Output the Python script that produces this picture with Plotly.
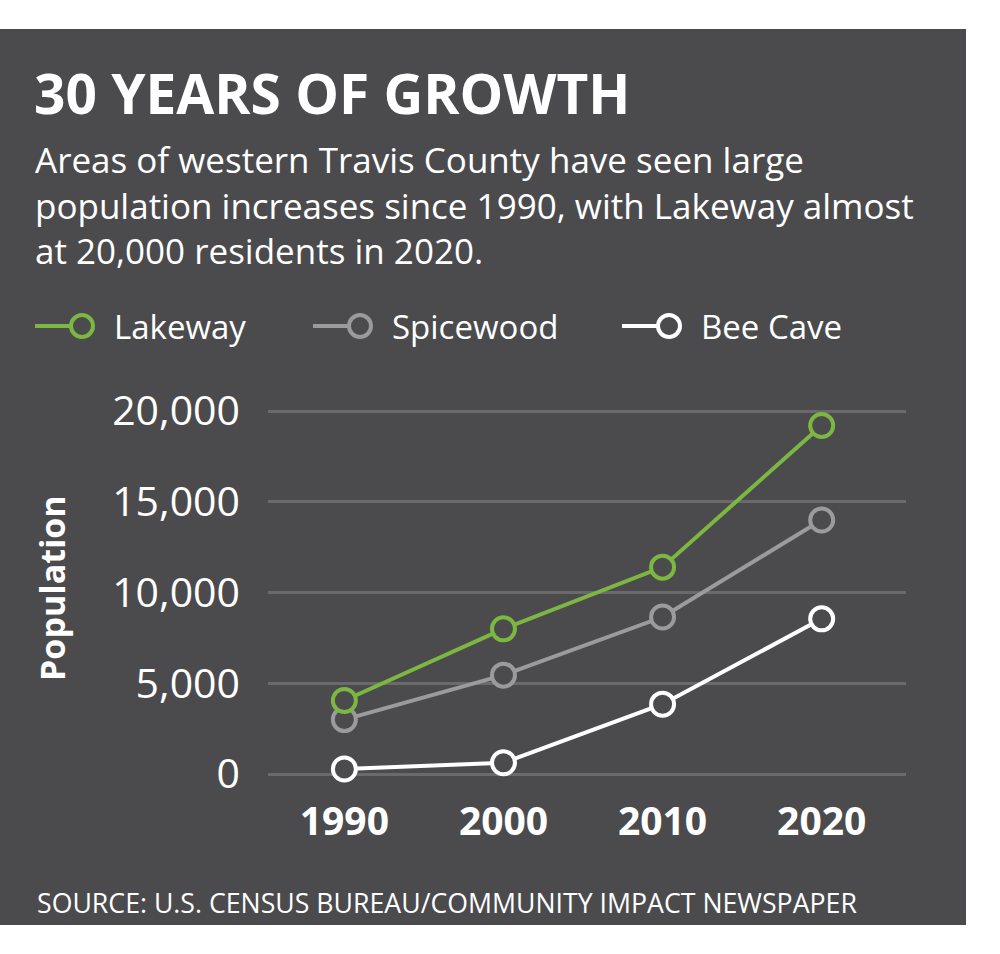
import plotly.graph_objects as go

# census years and populations
years = [1990, 2000, 2010, 2020]
lakeway = [4050, 8000, 11400, 19200]
spicewood = [3000, 5450, 8650, 14000]
bee_cave = [280, 620, 3850, 8550]

y_ticks = [0, 5000, 10000, 15000, 20000]
y_labels = ['0', '5,000', '10,000', '15,000', '20,000']

W, H = 1000, 954
PANEL = '#4b4b4d'
GRID = '#6a6a6c'
GREEN = '#7cb742'
GRAY = '#9b9b9d'
WHITE = '#ffffff'
FONT = 'Open Sans'


def px(x):
    return x / W


def py(y):
    return 1 - y / H


fig = go.Figure()

series = [('Bee Cave', bee_cave, WHITE),
          ('Spicewood', spicewood, GRAY),
          ('Lakeway', lakeway, GREEN)]

for name, vals, col in series:
    fig.add_trace(go.Scatter(
        x=years, y=vals, name=name, mode='lines+markers',
        line=dict(color=col, width=4),
        marker=dict(symbol='circle', size=23, color=PANEL,
                    line=dict(color=col, width=4)),
        cliponaxis=False, showlegend=False,
    ))

shapes = [dict(type='rect', xref='paper', yref='paper',
               x0=0, x1=px(966), y0=py(925), y1=py(29),
               fillcolor=PANEL, line=dict(width=0), layer='below')]

annotations = [
    dict(text='<b>30 YEARS OF GROWTH</b>', x=px(32), y=py(92),
         font=dict(size=55, color=WHITE, family=FONT, weight=800)),
    dict(text='Areas of western Travis County have seen large<br>'
              'population increases since 1990, with Lakeway almost<br>'
              'at 20,000 residents in 2020.',
         x=px(33), y=py(205), align='left',
         font=dict(size=35, color=WHITE, family=FONT)),
    dict(text='SOURCE: U.S. CENSUS BUREAU/COMMUNITY IMPACT NEWSPAPER',
         x=px(35), y=py(902),
         font=dict(size=26.7, color=WHITE, family=FONT)),
]
for a in annotations:
    a.update(xref='paper', yref='paper', xanchor='left', yanchor='middle',
             showarrow=False)

# hand-built legend: line stub + open circle + label
legend_items = [('Lakeway', GREEN, 35), ('Spicewood', GRAY, 313), ('Bee Cave', WHITE, 622)]
for name, col, x0 in legend_items:
    shapes.append(dict(type='line', xref='paper', yref='paper',
                       x0=px(x0), x1=px(x0 + 36), y0=py(326), y1=py(326),
                       line=dict(color=col, width=4)))
    shapes.append(dict(type='circle', xref='paper', yref='paper',
                       x0=px(x0 + 36), x1=px(x0 + 58), y0=py(337), y1=py(315),
                       fillcolor=PANEL, line=dict(color=col, width=4)))
    annotations.append(dict(text=name, xref='paper', yref='paper',
                            x=px(x0 + 77), y=py(326), xanchor='left', yanchor='middle',
                            showarrow=False,
                            font=dict(size=33, color=WHITE, family=FONT)))

annotations.append(dict(text='<b>Population</b>', xref='paper', yref='paper',
                        x=px(52), y=py(588), textangle=-90, showarrow=False,
                        xanchor='center', yanchor='middle',
                        font=dict(size=34, color=WHITE, family=FONT)))

fig.update_layout(
    width=W, height=H,
    margin=dict(l=0, r=0, t=0, b=0),
    paper_bgcolor='white', plot_bgcolor='rgba(0,0,0,0)',
    shapes=shapes, annotations=annotations,
    xaxis=dict(domain=[px(268), px(906)], range=[1985.2, 2025.3],
               tickvals=years, ticktext=[str(y) for y in years],
               showgrid=False, zeroline=False, showline=False, ticks='',
               ticklabelstandoff=-5,
               tickfont=dict(size=39, color=WHITE, family=FONT, weight='bold')),
    yaxis=dict(domain=[py(800), py(380)], range=[-1430, 21710],
               tickvals=y_ticks, ticktext=y_labels,
               showgrid=True, gridcolor=GRID, gridwidth=3,
               zeroline=False, showline=False, ticks='',
               ticklabelstandoff=27,
               tickfont=dict(size=41, color=WHITE, family=FONT)),
    hovermode=False,
)

fig.write_html('out.html', config={'displayModeBar': False},
               post_script="document.body.style.margin='0';")
